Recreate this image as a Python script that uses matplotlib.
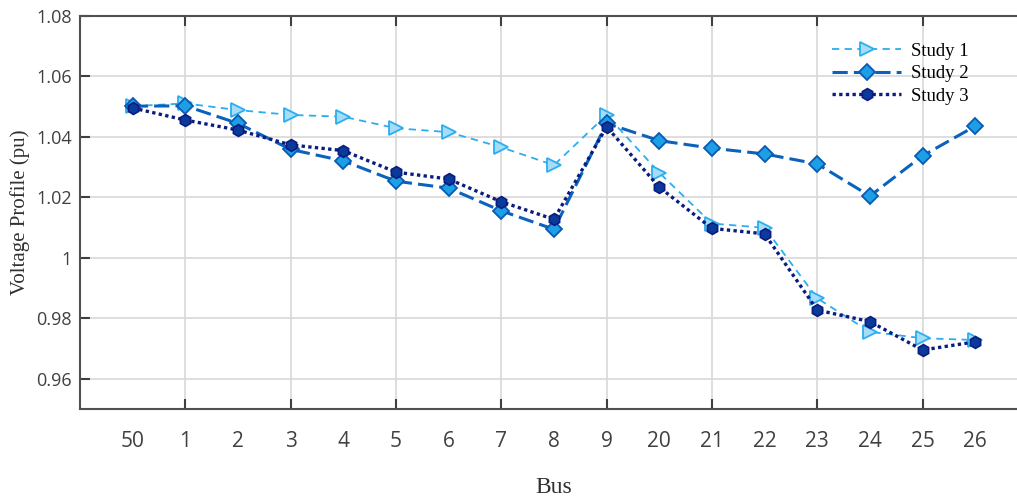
import numpy as np
import matplotlib
matplotlib.use("Agg")
import matplotlib.pyplot as plt
from matplotlib.ticker import FixedLocator

# Dati
bus = ["50", "1", "2", "3", "4", "5", "6", "7", "8", "9",
       "20", "21", "22", "23", "24", "25", "26"]
study1 = [1.0501, 1.0510, 1.0488, 1.0472, 1.0466, 1.0428, 1.0415, 1.0365, 1.0306,
          1.0472, 1.0281, 1.0113, 1.0099, 0.9866, 0.9755, 0.9734, 0.9728]
study2 = [1.0501, 1.0502, 1.0444, 1.0358, 1.0320, 1.0253, 1.0230, 1.0155, 1.0094,
          1.0444, 1.0387, 1.0362, 1.0343, 1.0310, 1.0204, 1.0337, 1.0435]
study3 = [1.0495, 1.0455, 1.0422, 1.0373, 1.0354, 1.0283, 1.0260, 1.0185, 1.0127,
          1.0433, 1.0233, 1.0097, 1.0079, 0.9827, 0.9789, 0.9695, 0.9722]
yticks = [0.96, 0.98, 1.00, 1.02, 1.04, 1.06, 1.08]
ytick_labels = ["0.96", "0.98", "1", "1.02", "1.04", "1.06", "1.08"]

x = np.arange(len(bus))

fig = plt.figure(figsize=(10.17, 4.98), dpi=100)
ax = fig.add_axes([0.0787, 0.1787, 0.932, 0.7898])

ax.plot(x, study1, linestyle=(0, (4, 3)), color="#2aaef0", linewidth=1.3,
        marker=">", markersize=10, markerfacecolor="#a6dcf8",
        markeredgecolor="#2aaef0", markeredgewidth=1.3, label="Study 1")
ax.plot(x, study2, linestyle=(0, (5, 2)), color="#0a62bd", linewidth=2.2,
        marker="D", markersize=8, markerfacecolor="#1c9fe4",
        markeredgecolor="#0a5ab4", markeredgewidth=1.3, label="Study 2")
ax.plot(x, study3, linestyle=(0, (1, 1)), color="#0b1c80", linewidth=2.4,
        marker="h", markersize=8.5, markerfacecolor="#0a3a9a",
        markeredgecolor="#0b1c80", markeredgewidth=1.2, label="Study 3")

ax.set_xlim(-1, 17)
ax.set_ylim(0.95, 1.08)

# Etichette asse x su tutte le categorie, tacche e griglia solo sulle dispari
ax.set_xticks(x)
ax.set_xticklabels(bus, fontsize=15, color="#404040", family="Open Sans")
ax.tick_params(axis="x", which="major", length=0, pad=16)
ax.xaxis.remove_overlapping_locs = False
ax.xaxis.set_minor_locator(FixedLocator(x[1::2]))
ax.tick_params(axis="x", which="minor", direction="in", length=7, width=1.5,
               color="#404040", top=True, bottom=True)

ax.set_yticks(yticks)
ax.set_yticklabels(ytick_labels, fontsize=13, color="#404040", family="Open Sans")
ax.tick_params(axis="y", direction="in", length=7, width=1.5, color="#404040", pad=6)

ax.grid(True, axis="x", which="minor", color="#d8d8d8", linewidth=1.2)
ax.grid(True, axis="y", which="major", color="#d8d8d8", linewidth=1.2)
ax.set_axisbelow(True)

for s in ax.spines.values():
    s.set_color("#505050")
    s.set_linewidth(1.5)

ax.set_ylabel("Voltage Profile (pu)", fontsize=15, family="Liberation Serif",
              color="#303030", labelpad=4)
ax.set_xlabel("Bus", fontsize=17, family="Liberation Serif", color="#303030",
              labelpad=18)

ax.legend(loc="upper right", bbox_to_anchor=(0.955, 0.975), frameon=False,
          prop={"family": "Liberation Serif", "size": 13.5}, handlelength=3.7,
          labelspacing=0.3, handletextpad=0.5)

fig.savefig("out.png", dpi=100)
